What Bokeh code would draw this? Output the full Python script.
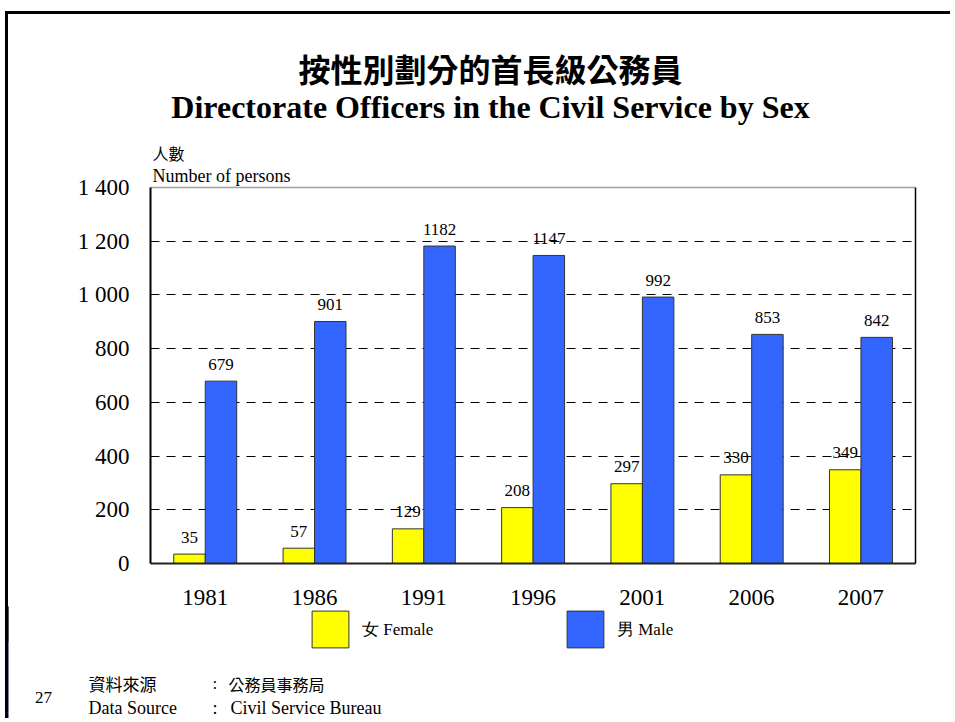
from bokeh.plotting import figure
from bokeh.models import (FactorRange, Range1d, ColumnDataSource, FixedTicker, LabelSet,
                          Label, Legend, LegendItem, LinearAxis, Span)
from bokeh.transform import dodge
from bokeh.core.properties import value
from bokeh.embed import file_html
from bokeh.resources import INLINE

# ---- data ----
years = ["1981", "1986", "1991", "1996", "2001", "2006", "2007"]
female = [35, 57, 129, 208, 297, 330, 349]
male = [679, 901, 1182, 1147, 992, 853, 842]
y_ticks = [0, 200, 400, 600, 800, 1000, 1200, 1400]
y_tick_labels = ["0", "200", "400", "600", "800", "1 000", "1 200", "1 400"]
series_names = ["女 Female", "男 Male"]
female_color, male_color = "#FFFF00", "#3366FF"

SERIF = "Liberation Serif"
CJK = "Noto Sans CJK TC"

# ---- layout sizes (px) ----
W = 945
FRAME_H = 549          # frame height of main chart (includes title area above the axes)
AXIS_H = 376           # pixel height of the 0..1400 value axis
YMAX = y_ticks[-1] * FRAME_H / AXIS_H

src = ColumnDataSource(dict(
    year=years, female=female, male=male,
    female_txt=[str(v) for v in female], male_txt=[str(v) for v in male]))

p = figure(x_range=FactorRange(factors=years), y_range=Range1d(0, YMAX),
           width=W, height=FRAME_H + 50, output_backend="svg", toolbar_location=None,
           min_border_left=142, min_border_right=38, min_border_top=0,
           min_border_bottom=50)
p.outline_line_color = None
p.background_fill_color = "white"
p.border_fill_color = "white"
p.styles = {"border-left": "3px solid black", "border-top": "3px solid black",
            "margin-left": "5px", "margin-top": "11px"}

# light solid line under the top (1 400) dashed gridline
p.add_layout(Span(location=y_ticks[-1], dimension="width", line_color="#a0a0a0",
                  line_width=1.5, level="underlay"))

FOFF, MOFF, BW = -0.143, 0.145, 0.288
rf = p.vbar(x=dodge("year", FOFF, range=p.x_range), top="female", width=BW, source=src,
            fill_color=female_color, line_color="#333333", line_width=1)
rm = p.vbar(x=dodge("year", MOFF, range=p.x_range), top="male", width=BW, source=src,
            fill_color=male_color, line_color="#333333", line_width=1)

for fld, off in (("female", FOFF), ("male", MOFF)):
    p.add_layout(LabelSet(x=dodge("year", off, range=p.x_range), y=fld, text=fld + "_txt",
                          source=src, y_offset=17, text_align="center",
                          text_baseline="middle", text_font=value(SERIF),
                          text_font_size="17px", text_color="black"))

# axes
p.xaxis.major_tick_line_color = None
p.xaxis.minor_tick_line_color = None
p.xaxis.axis_line_color = "#222222"
p.xaxis.axis_line_width = 2
p.xaxis.major_label_text_font = SERIF
p.xaxis.major_label_text_font_size = "23px"
p.xaxis.major_label_standoff = 20
p.xaxis.major_label_text_color = "black"

p.yaxis.ticker = FixedTicker(ticks=y_ticks)
p.yaxis.bounds = (y_ticks[0], y_ticks[-1])
p.yaxis.major_label_overrides = {t: l for t, l in zip(y_ticks, y_tick_labels)}
p.yaxis.major_tick_line_color = None
p.yaxis.minor_tick_line_color = None
p.yaxis.axis_line_color = "black"
p.yaxis.axis_line_width = 2
p.yaxis.major_label_text_font = SERIF
p.yaxis.major_label_text_font_size = "23px"
p.yaxis.major_label_standoff = 15
p.yaxis.major_label_text_color = "black"

right = LinearAxis(ticker=FixedTicker(ticks=[]), major_tick_line_color=None,
                   minor_tick_line_color=None, axis_line_color="black", axis_line_width=1.5,
                   bounds=(y_ticks[0], y_ticks[-1]))
p.add_layout(right, "right")

p.xgrid.grid_line_color = None
p.ygrid.ticker = FixedTicker(ticks=y_ticks[1:])
p.ygrid.grid_line_color = "black"
p.ygrid.grid_line_dash = "9 7"
p.ygrid.grid_line_width = 1

def lab(fig, x, y, t, size, font=SERIF, style="normal", align="left", units="screen"):
    fig.add_layout(Label(x=x, y=y, x_units=units, y_units=units, text=t,
                         text_font=font, text_font_size=size, text_font_style=style,
                         text_align=align, text_baseline="middle", text_color="black"))

# titles (screen units: from frame bottom-left)
lab(p, 340, 496, "按性別劃分的首長級公務員", "32px", CJK, "bold", "center")
lab(p, 340, 457, "Directorate Officers in the Civil Service by Sex", "32px", SERIF, "bold", "center")
lab(p, 2, 411, "人數", "16px", CJK)
lab(p, 2, 388, "Number of persons", "18px", SERIF)

# ---- bottom strip: legend + source ----
BH = 112
q = figure(width=W, height=BH, x_range=Range1d(0, W), y_range=Range1d(BH, 0),
           output_backend="svg", toolbar_location=None, x_axis_type=None, y_axis_type=None,
           min_border=0)
q.outline_line_color = None
q.grid.visible = False
q.background_fill_color = "white"
q.border_fill_color = "white"
q.styles = {"border-left": "3px solid black", "margin-left": "5px", "margin-top": "-4px"}
# legend-only renderers (single bar kept outside the visible range)
qf = q.vbar(x=[-W], top=[female[0]], width=1, fill_color=female_color, line_color="#333333")
qm = q.vbar(x=[-W], top=[male[0]], width=1, fill_color=male_color, line_color="#333333")

legend = Legend(items=[LegendItem(label=series_names[0], renderers=[qf]),
                       LegendItem(label=series_names[1], renderers=[qm])],
                orientation="horizontal", location=(299, 66),
                glyph_width=46, glyph_height=46, label_standoff=9, label_width=200,
                spacing=0, padding=0, margin=0, background_fill_alpha=0,
                border_line_alpha=0, label_text_font=SERIF, label_text_font_size="17px",
                label_text_color="black")
q.add_layout(legend, "center")

lab(q, 35, 91, "27", "17px", SERIF, align="center", units="data")
lab(q, 80, 77, "資料來源", "17px", CJK, units="data")
lab(q, 204, 77, ":", "17px", SERIF, units="data")
lab(q, 220, 77, "公務員事務局", "16px", CJK, units="data")
lab(q, 80, 101, "Data Source", "18px", SERIF, units="data")
lab(q, 204, 101, ":", "18px", SERIF, units="data")
lab(q, 222, 101, "Civil Service Bureau", "18px", SERIF, units="data")

open("out.html", "w").write(file_html([p, q], INLINE))
